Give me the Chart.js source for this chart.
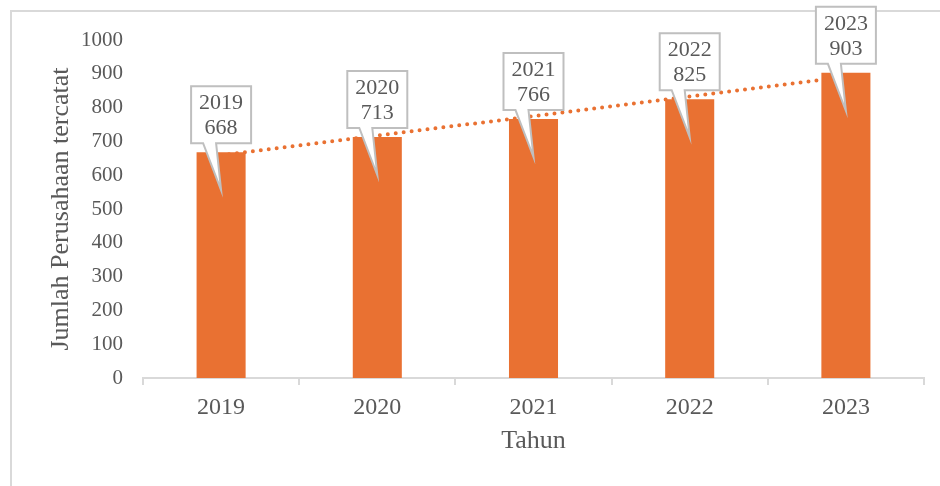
<!DOCTYPE html>
<html>
<head>
<meta charset="utf-8">
<script src="https://cdn.jsdelivr.net/npm/chart.js@4"></script>
<style>
  body { margin: 0; background: #fff; }
  #wrap { position: relative; width: 940px; height: 486px; overflow: hidden; }
  #frame { position: absolute; left: 10px; top: 10px; width: 1000px; height: 1000px; border: 2px solid #D9D9D9; }
  #c { position: absolute; left: 0; top: 0; }
</style>
</head>
<body>
<div id="wrap">
  <div id="frame"></div>
  <canvas id="c" width="940" height="486"></canvas>
</div>
<script>
const years = ['2019', '2020', '2021', '2022', '2023'];
const jumlah = [668, 713, 766, 825, 903];
const trend = [659, 717, 775, 833, 891];   // garis tren linear

const orange = '#E97132';
const grey = '#595959';
const serif = "'Liberation Serif', 'Times New Roman', serif";

// Label callout di atas batang
const calloutPlugin = {
    id: 'callout',
    afterDatasetsDraw(chart) {
        const ctx = chart.ctx;
        const meta = chart.getDatasetMeta(1);
        const yScale = chart.scales.y;
        ctx.save();
        meta.data.forEach((bar, i) => {
            const cx = bar.x;
            const top = yScale.getPixelForValue(jumlah[i]);
            const w = 60, h = 57;
            const bx = cx - w / 2;
            const bBottom = top - 9;
            const bTop = bBottom - h;
            ctx.beginPath();
            ctx.moveTo(bx, bTop);
            ctx.lineTo(bx + w, bTop);
            ctx.lineTo(bx + w, bBottom);
            ctx.lineTo(bx + 25, bBottom);
            ctx.lineTo(cx, top + 38);
            ctx.lineTo(bx + 12, bBottom);
            ctx.lineTo(bx, bBottom);
            ctx.closePath();
            ctx.fillStyle = '#fff';
            ctx.fill();
            ctx.strokeStyle = '#BFBFBF';
            ctx.lineWidth = 2;
            ctx.stroke();
            ctx.fillStyle = grey;
            ctx.font = '22px ' + serif;
            ctx.textAlign = 'center';
            ctx.textBaseline = 'middle';
            ctx.fillText(years[i], cx, bTop + 17);
            ctx.fillText(String(jumlah[i]), cx, bTop + 42);
        });
        ctx.restore();
    }
};

new Chart(document.getElementById('c'), {
    type: 'bar',
    data: {
        labels: years,
        datasets: [
            {
                type: 'line',
                data: trend,
                borderColor: orange,
                borderWidth: 4,
                borderDash: [0, 8],
                borderCapStyle: 'round',
                pointRadius: 0,
                fill: false,
                order: 0
            },
            {
                data: jumlah,
                backgroundColor: orange,
                categoryPercentage: 1,
                barPercentage: 0.314,
                order: 1
            }
        ]
    },
    options: {
        responsive: false,
        animation: false,
        layout: { padding: { left: 0, right: 16, top: 40, bottom: 0 } },
        plugins: {
            legend: { display: false },
            tooltip: { enabled: false }
        },
        scales: {
            x: {
                grid: { drawOnChartArea: false, drawTicks: true, tickLength: 7, color: '#D9D9D9', lineWidth: 2 },
                border: { color: '#D9D9D9', width: 2 },
                ticks: { color: grey, font: { family: serif, size: 24 }, padding: 8 },
                title: { display: true, text: 'Tahun', color: grey, font: { family: serif, size: 26 }, padding: { top: 4, bottom: 29 } },
                afterFit(scale) { scale.height = 108; }
            },
            y: {
                min: 0,
                max: 1000,
                grid: { display: false, drawTicks: false },
                border: { display: false },
                ticks: { stepSize: 100, color: grey, font: { family: serif, size: 21 }, padding: 20, callback: v => String(v) },
                title: { display: true, text: 'Jumlah Perusahaan tercatat', color: grey, font: { family: serif, size: 26 }, padding: { top: 46, bottom: 0 } },
                afterFit(scale) { scale.width = 143; }
            }
        }
    },
    plugins: [calloutPlugin]
});
</script>
</body>
</html>
